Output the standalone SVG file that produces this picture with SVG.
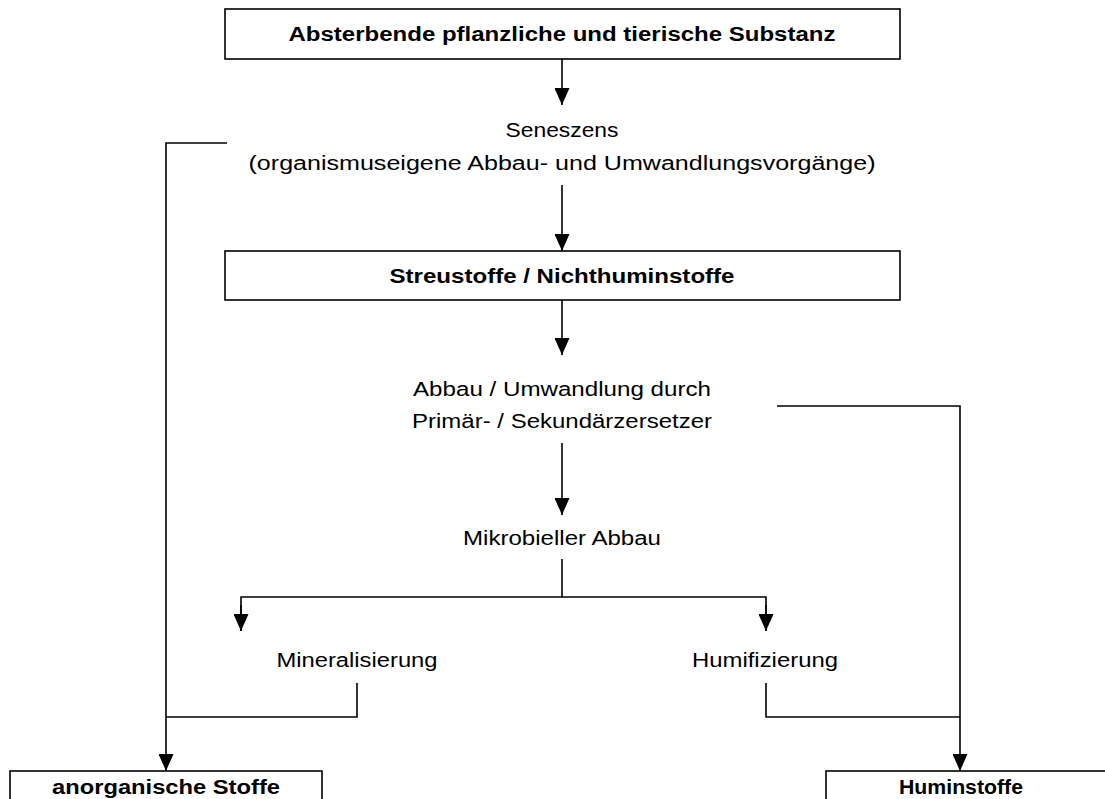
<svg xmlns="http://www.w3.org/2000/svg" width="1105" height="799" viewBox="0 0 1105 799">
<style>
.box{fill:#fff;stroke:#000;stroke-width:1.6}
.ln{fill:none;stroke:#000;stroke-width:1.6}
.b{font-family:"Liberation Sans",Arial,sans-serif;font-weight:bold;font-size:20px;text-anchor:middle}
.t{font-family:"Liberation Sans",Arial,sans-serif;font-size:20px;text-anchor:middle}
</style>
<defs>
<marker id="ah" markerUnits="userSpaceOnUse" markerWidth="17" markerHeight="15" refX="17" refY="7.5" orient="auto" viewBox="0 0 17 15">
<path d="M0,0 L17,7.5 L0,15 Z" fill="#000"/>
</marker>
</defs>
<rect width="1105" height="799" fill="#fff"/>
<g id="connectors">
<line class="ln" x1="562" y1="59" x2="562" y2="105" marker-end="url(#ah)"/>
<line class="ln" x1="562" y1="185" x2="562" y2="251" marker-end="url(#ah)"/>
<line class="ln" x1="562" y1="300" x2="562" y2="355" marker-end="url(#ah)"/>
<line class="ln" x1="562" y1="443" x2="562" y2="515" marker-end="url(#ah)"/>
<polyline class="ln" points="227,143 166,143 166,771" marker-end="url(#ah)"/>
<polyline class="ln" points="777,406 960,406 960,771" marker-end="url(#ah)"/>
<line class="ln" x1="562" y1="559" x2="562" y2="597"/>
<polyline class="ln" points="241,631 241,597 766,597 766,631"/>
<line class="ln" x1="241" y1="605" x2="241" y2="631" marker-end="url(#ah)"/>
<line class="ln" x1="766" y1="605" x2="766" y2="631" marker-end="url(#ah)"/>
<polyline class="ln" points="357,683 357,717 166,717"/>
<polyline class="ln" points="766,683 766,717 960,717"/>
</g>
<g id="n-absterbende">
<rect class="box" x="225" y="9" width="675" height="50"/>
<text class="b" x="562" y="41" textLength="547" lengthAdjust="spacingAndGlyphs">Absterbende pflanzliche und tierische Substanz</text>
</g>
<g id="n-seneszens">
<text class="t" x="562" y="137" textLength="113" lengthAdjust="spacingAndGlyphs">Seneszens</text>
<text class="t" x="562" y="170" textLength="627" lengthAdjust="spacingAndGlyphs">(organismuseigene Abbau- und Umwandlungsvorgänge)</text>
</g>
<g id="n-streustoffe">
<rect class="box" x="225" y="251" width="675" height="49"/>
<text class="b" x="562" y="283" textLength="345" lengthAdjust="spacingAndGlyphs">Streustoffe / Nichthuminstoffe</text>
</g>
<g id="n-abbau">
<text class="t" x="562" y="396" textLength="298" lengthAdjust="spacingAndGlyphs">Abbau / Umwandlung durch</text>
<text class="t" x="562" y="428" textLength="300" lengthAdjust="spacingAndGlyphs">Primär- / Sekundärzersetzer</text>
</g>
<g id="n-mikrobiell">
<text class="t" x="562" y="545" textLength="198" lengthAdjust="spacingAndGlyphs">Mikrobieller Abbau</text>
</g>
<g id="n-mineral">
<text class="t" x="357" y="667" textLength="161" lengthAdjust="spacingAndGlyphs">Mineralisierung</text>
</g>
<g id="n-humif">
<text class="t" x="765" y="667" textLength="146" lengthAdjust="spacingAndGlyphs">Humifizierung</text>
</g>
<g id="n-anorganisch">
<rect class="box" x="10" y="771" width="312" height="40"/>
<text class="b" x="166" y="794" textLength="228" lengthAdjust="spacingAndGlyphs">anorganische Stoffe</text>
</g>
<g id="n-humin">
<rect class="box" x="826" y="771" width="290" height="40"/>
<text class="b" x="961" y="794" textLength="124" lengthAdjust="spacingAndGlyphs">Huminstoffe</text>
</g>
</svg>
